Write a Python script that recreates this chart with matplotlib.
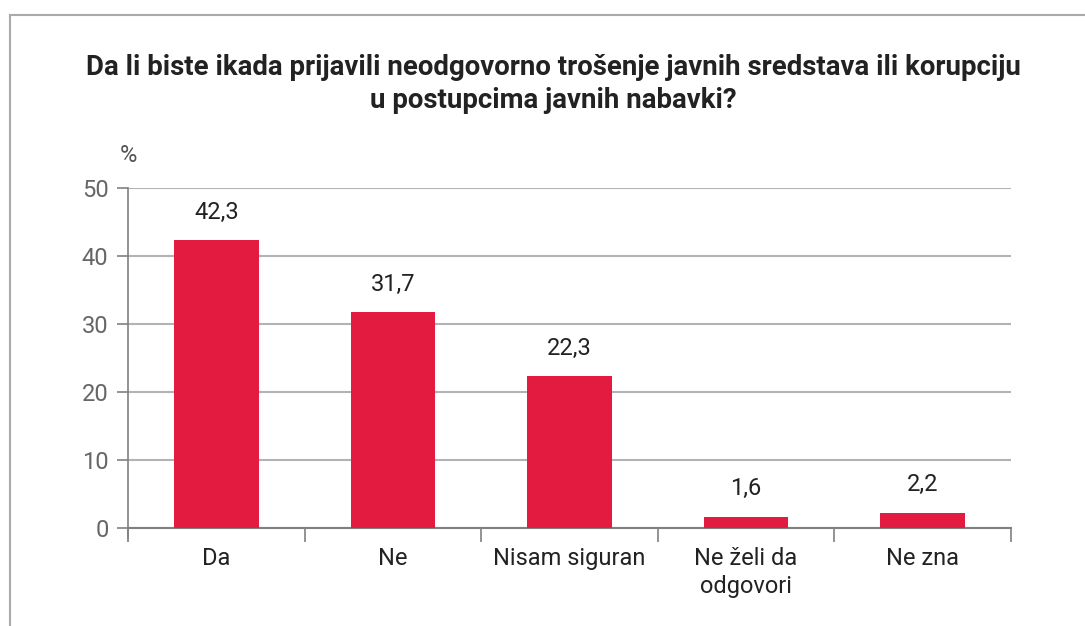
import matplotlib
matplotlib.use("Agg")
import matplotlib.pyplot as plt
from matplotlib.lines import Line2D

categories = ["Da", "Ne", "Nisam siguran", "Ne želi da\nodgovori", "Ne zna"]
values = [42.3, 31.7, 22.3, 1.6, 2.2]
value_labels = ["42,3", "31,7", "22,3", "1,6", "2,2"]
yticks = [0, 10, 20, 30, 40, 50]
title = "Da li biste ikada prijavili neodgovorno trošenje javnih sredstava ili korupciju\nu postupcima javnih nabavki?"

plt.rcParams['font.family'] = ['Roboto', 'DejaVu Sans']

fig = plt.figure(figsize=(10.85, 6.26), dpi=100)
ax = fig.add_axes([128/1085, 1-528/626, (1011-128)/1085, (528-188)/626])

bar_color = "#E31B41"
grid_color = "#b3b3b3"
axis_color = "#808080"

x = list(range(len(categories)))
ax.bar(x, values, width=0.48, color=bar_color, zorder=3)
for xi, v, lab in zip(x, values, value_labels):
    ax.annotate(lab, (xi, v), xytext=(0, 12), textcoords="offset points",
                ha="center", va="bottom", fontsize=17, color="#222222")

ax.set_xlim(-0.5, len(categories)-0.5)
ax.set_ylim(0, 50)
ax.set_yticks(yticks)
ax.set_yticklabels([str(t) for t in yticks], fontsize=17, color="#666666")
ax.yaxis.grid(True, color=grid_color, linewidth=1.5, zorder=0)
ax.set_axisbelow(True)

# category ticks at boundaries
ax.set_xticks([i - 0.5 for i in range(len(categories)+1)])
ax.set_xticklabels([])
ax.set_xticks(x, minor=True)
ax.set_xticklabels(categories, minor=True, fontsize=17, color="#222222", linespacing=1.25)
ax.tick_params(axis='x', which='minor', length=0, pad=14)
ax.tick_params(axis='x', which='major', length=10, color=axis_color, width=1.2)
ax.tick_params(axis='y', length=8, color=axis_color, width=1.2, pad=6)

for s in ["top", "right"]:
    ax.spines[s].set_visible(False)
ax.spines["bottom"].set_color(axis_color)
ax.spines["bottom"].set_linewidth(1.5)
ax.spines["left"].set_color(axis_color)
ax.spines["left"].set_linewidth(1.2)
ax.spines["left"].set_bounds(-1.5, 50)

ax.text(0, 1.095, "%", transform=ax.transAxes, fontsize=17, color="#555555",
        ha="center", va="center")

fig.text(553/1085, 1-84/626, title, ha="center", va="center", fontsize=19.9,
         fontweight="bold", color="#222222", linespacing=1.3)

# outer frame (top and left)
fig.add_artist(Line2D([10/1085, 1], [1-15/626, 1-15/626], transform=fig.transFigure,
                      color="#aaaaaa", linewidth=1.5))
fig.add_artist(Line2D([10/1085, 10/1085], [0, 1-15/626], transform=fig.transFigure,
                      color="#aaaaaa", linewidth=1.5))

fig.savefig("out.png", dpi=100)
